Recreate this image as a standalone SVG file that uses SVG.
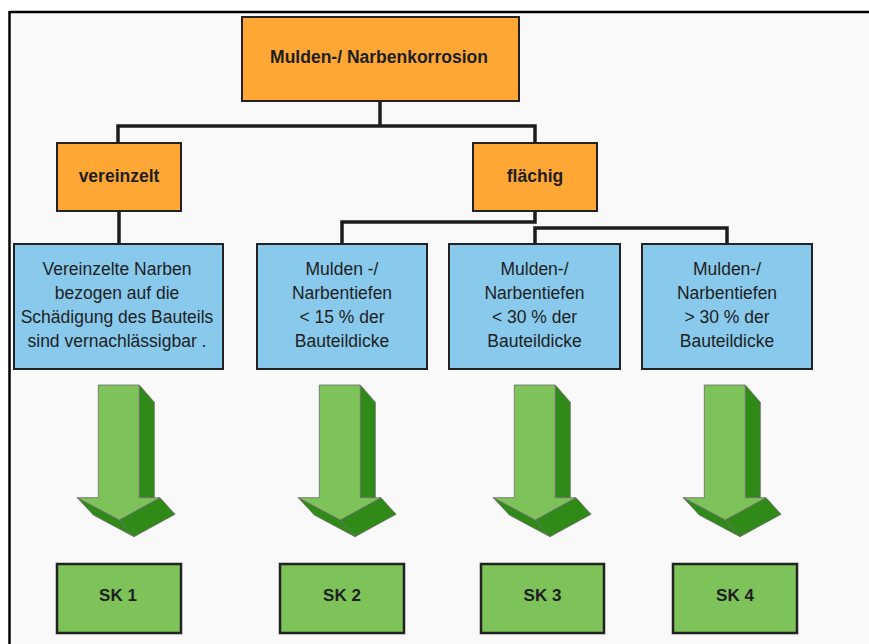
<svg xmlns="http://www.w3.org/2000/svg" width="869" height="644" viewBox="0 0 869 644">
<defs>
<style>
.bg{fill:#f9f9f9}
.orange{fill:#fea735;stroke:#222;stroke-width:2}
.blue{fill:#88c9ec;stroke:#222;stroke-width:2}
.green{fill:#7ec35a;stroke:#222;stroke-width:2.5}
.conn{fill:none;stroke:#1c1c1c;stroke-width:3.5}
.tb{font-family:"Liberation Sans",Arial,sans-serif;font-weight:bold;font-size:17.5px;fill:#1e1e1e;text-anchor:middle}
.sk{font-size:17px}
.tr{font-family:"Liberation Sans",Arial,sans-serif;font-size:17.5px;fill:#1e1e1e;text-anchor:middle}
.af{fill:#7ec35a;stroke:#6a6a6a;stroke-width:0.8;stroke-linejoin:round}
.ad{fill:#2f8a17;stroke:#6a6a6a;stroke-width:0.8;stroke-linejoin:round}
</style>
<g id="arrowShape">
<polygon class="ad" points="139.3,385 154.3,402.3 154.3,497.7 139.3,497.7"/>
<polygon class="ad" points="77.3,497.7 93.3,515 134,536.7 119.3,520"/>
<polygon class="ad" points="119.3,520 134,536.7 175,514.3 160,497.7"/>
<polygon class="af" points="98.3,385 139.3,385 139.3,497.7 160,497.7 119.3,520 77.3,497.7 98.3,497.7"/>
</g>
</defs>
<rect x="0" y="0" width="869" height="644" fill="#ffffff"/>
<rect class="bg" x="9" y="12" width="860" height="632"/>
<path d="M9.5 12 H869 M9.5 11 V644" fill="none" stroke="#000" stroke-width="2.5"/>

<g id="connectors">
<path class="conn" d="M380 101 V126 M118 143 V126 H535 V143"/>
<path class="conn" d="M119 211 V244"/>
<path class="conn" d="M535 211 V222 H342 V244"/>
<path class="conn" d="M535 244 V228 H727 V244"/>
</g>

<g id="root">
<rect class="orange" x="242" y="17" width="277" height="84"/>
<text class="tb" x="379" y="63">Mulden-/ Narbenkorrosion</text>
</g>
<g id="vereinzelt">
<rect class="orange" x="57" y="143" width="124" height="68"/>
<text class="tb" x="119" y="182">vereinzelt</text>
</g>
<g id="flaechig">
<rect class="orange" x="473" y="143" width="124" height="68"/>
<text class="tb" x="535" y="182">flächig</text>
</g>

<g id="desc1">
<rect class="blue" x="14" y="244" width="209" height="125"/>
<text class="tr" x="117" y="275">Vereinzelte Narben</text>
<text class="tr" x="117" y="299">bezogen auf die</text>
<text class="tr" x="117" y="323">Schädigung des Bauteils</text>
<text class="tr" x="117" y="347">sind vernachlässigbar .</text>
</g>
<g id="desc2">
<rect class="blue" x="257" y="244" width="170" height="125"/>
<text class="tr" x="342" y="275">Mulden -/</text>
<text class="tr" x="342" y="299">Narbentiefen</text>
<text class="tr" x="342" y="323">&lt; 15 % der</text>
<text class="tr" x="342" y="347">Bauteildicke</text>
</g>
<g id="desc3">
<rect class="blue" x="449" y="244" width="171" height="125"/>
<text class="tr" x="534.5" y="275">Mulden-/</text>
<text class="tr" x="534.5" y="299">Narbentiefen</text>
<text class="tr" x="534.5" y="323">&lt; 30 % der</text>
<text class="tr" x="534.5" y="347">Bauteildicke</text>
</g>
<g id="desc4">
<rect class="blue" x="642" y="244" width="170" height="125"/>
<text class="tr" x="727" y="275">Mulden-/</text>
<text class="tr" x="727" y="299">Narbentiefen</text>
<text class="tr" x="727" y="323">&gt; 30 % der</text>
<text class="tr" x="727" y="347">Bauteildicke</text>
</g>

<g id="arrow1"><use href="#arrowShape"/></g>
<g id="arrow2"><use href="#arrowShape" transform="translate(221,0)"/></g>
<g id="arrow3"><use href="#arrowShape" transform="translate(416,0)"/></g>
<g id="arrow4"><use href="#arrowShape" transform="translate(606,0)"/></g>

<g id="sk1">
<rect class="green" x="57" y="564" width="124" height="69"/>
<text class="tb sk" x="118" y="601">SK 1</text>
</g>
<g id="sk2">
<rect class="green" x="280" y="564" width="124" height="69"/>
<text class="tb sk" x="342" y="601">SK 2</text>
</g>
<g id="sk3">
<rect class="green" x="481" y="564" width="123" height="69"/>
<text class="tb sk" x="542.5" y="601">SK 3</text>
</g>
<g id="sk4">
<rect class="green" x="673" y="564" width="124" height="69"/>
<text class="tb sk" x="735" y="601">SK 4</text>
</g>
</svg>
